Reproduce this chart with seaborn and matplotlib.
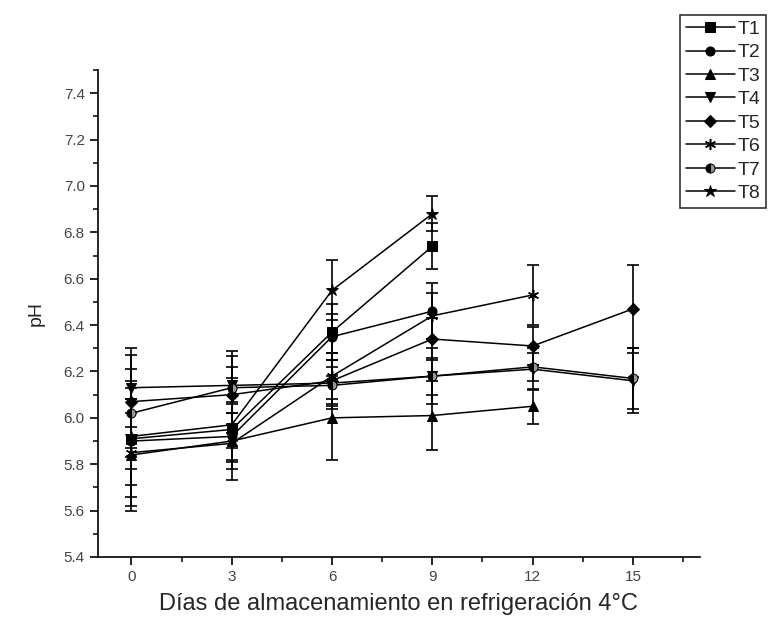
import numpy as np
import pandas as pd
import matplotlib
matplotlib.use('Agg')
import matplotlib.pyplot as plt
from matplotlib.ticker import MultipleLocator
import seaborn as sns

# días de almacenamiento
dias = [0, 3, 6, 9, 12, 15]

# pH promedio por tratamiento
t1 = [5.91, 5.95, 6.37, 6.74]
t2 = [5.90, 5.92, 6.35, 6.46]
t3 = [5.84, 5.90, 6.00, 6.01, 6.05]
t4 = [6.13, 6.14, 6.15, 6.18, 6.21, 6.16]
t5 = [6.07, 6.10, 6.16, 6.34, 6.31, 6.47]
t6 = [5.85, 5.89, 6.18, 6.44, 6.53]
t7 = [6.02, 6.13, 6.14, 6.18, 6.22, 6.17]
t8 = [5.92, 5.97, 6.55, 6.88]

# desviación estándar
e1 = [0.25, 0.22, 0.12, 0.10]
e2 = [0.12, 0.10, 0.10, 0.12]
e3 = [0.24, 0.12, 0.18, 0.15, 0.075]
e4 = [0.17, 0.08, 0.10, 0.08, 0.09, 0.14]
e5 = [0.20, 0.165, 0.12, 0.09, 0.08, 0.19]
e6 = [0.23, 0.08, 0.10, 0.10, 0.13]
e7 = [0.19, 0.16, 0.08, 0.12, 0.06, 0.13]
e8 = [0.21, 0.10, 0.13, 0.075]

nombres = ['T1', 'T2', 'T3', 'T4', 'T5', 'T6', 'T7', 'T8']
medias = [t1, t2, t3, t4, t5, t6, t7, t8]
errores = [e1, e2, e3, e4, e5, e6, e7, e8]
marcadores = ['s', 'o', '^', 'v', 'D', (6, 2, 0), 'o', '*']

sns.set_style('ticks')
plt.rcParams['font.family'] = ['Liberation Sans', 'DejaVu Sans']

fig = plt.figure(figsize=(7.81, 6.31), dpi=100)
ax = fig.add_axes([0.1255, 0.1173, 0.7705, 0.7717])

handles = []
for nom, m, e, mk in zip(nombres, medias, errores, marcadores):
    df = pd.DataFrame({'dia': dias[:len(m)], 'ph': m})
    ax.errorbar(df['dia'], df['ph'], yerr=e, fmt='none', ecolor='black',
                elinewidth=1.2, capsize=4.5, capthick=1.2, zorder=2)
    kw = dict(marker=mk, markersize=6.5, color='black',
              markeredgecolor='black', linewidth=1.1)
    if nom == 'T8':
        kw.update(markersize=9)
    if nom == 'T7':
        kw.update(fillstyle='left', markerfacecoloralt='#999999')
    if nom == 'T6':
        kw.update(markersize=8, markeredgewidth=1.1)
    if nom == 'T5':
        kw.update(markersize=6)
    sns.lineplot(data=df, x='dia', y='ph', ax=ax, zorder=3, **kw)
    handles.append(ax.lines[-1])

ax.set_xlim(-1, 17)
ax.set_ylim(5.4, 7.5)
ax.set_xticks(dias)
ax.set_yticks(np.arange(5.4, 7.41, 0.2))
ax.set_yticklabels([f'{v:.1f}' for v in np.arange(5.4, 7.41, 0.2)])
ax.xaxis.set_minor_locator(MultipleLocator(1.5))
ax.yaxis.set_minor_locator(MultipleLocator(0.1))
ax.tick_params(which='major', direction='out', length=6, width=1.2,
               labelsize=11, labelcolor='#444444', color='black')
ax.tick_params(which='minor', direction='out', length=3.5, width=1.1, color='black')
for s in ['top', 'right']:
    ax.spines[s].set_visible(False)
for s in ['left', 'bottom']:
    ax.spines[s].set_linewidth(1.2)
    ax.spines[s].set_color('black')

ax.set_xlabel('Días de almacenamiento en refrigeración 4°C', fontsize=17, labelpad=6)
ax.set_ylabel('pH', fontsize=14, labelpad=14)

leg = fig.legend(handles, nombres, loc='upper left', bbox_to_anchor=(0.871, 0.977),
                 fontsize=14, frameon=True, fancybox=False, edgecolor='black',
                 handlelength=2.5, handletextpad=0.15, labelspacing=0.3,
                 borderpad=0.3, borderaxespad=0)
leg.get_frame().set_linewidth(1.2)

fig.savefig('out.png', dpi=100)
